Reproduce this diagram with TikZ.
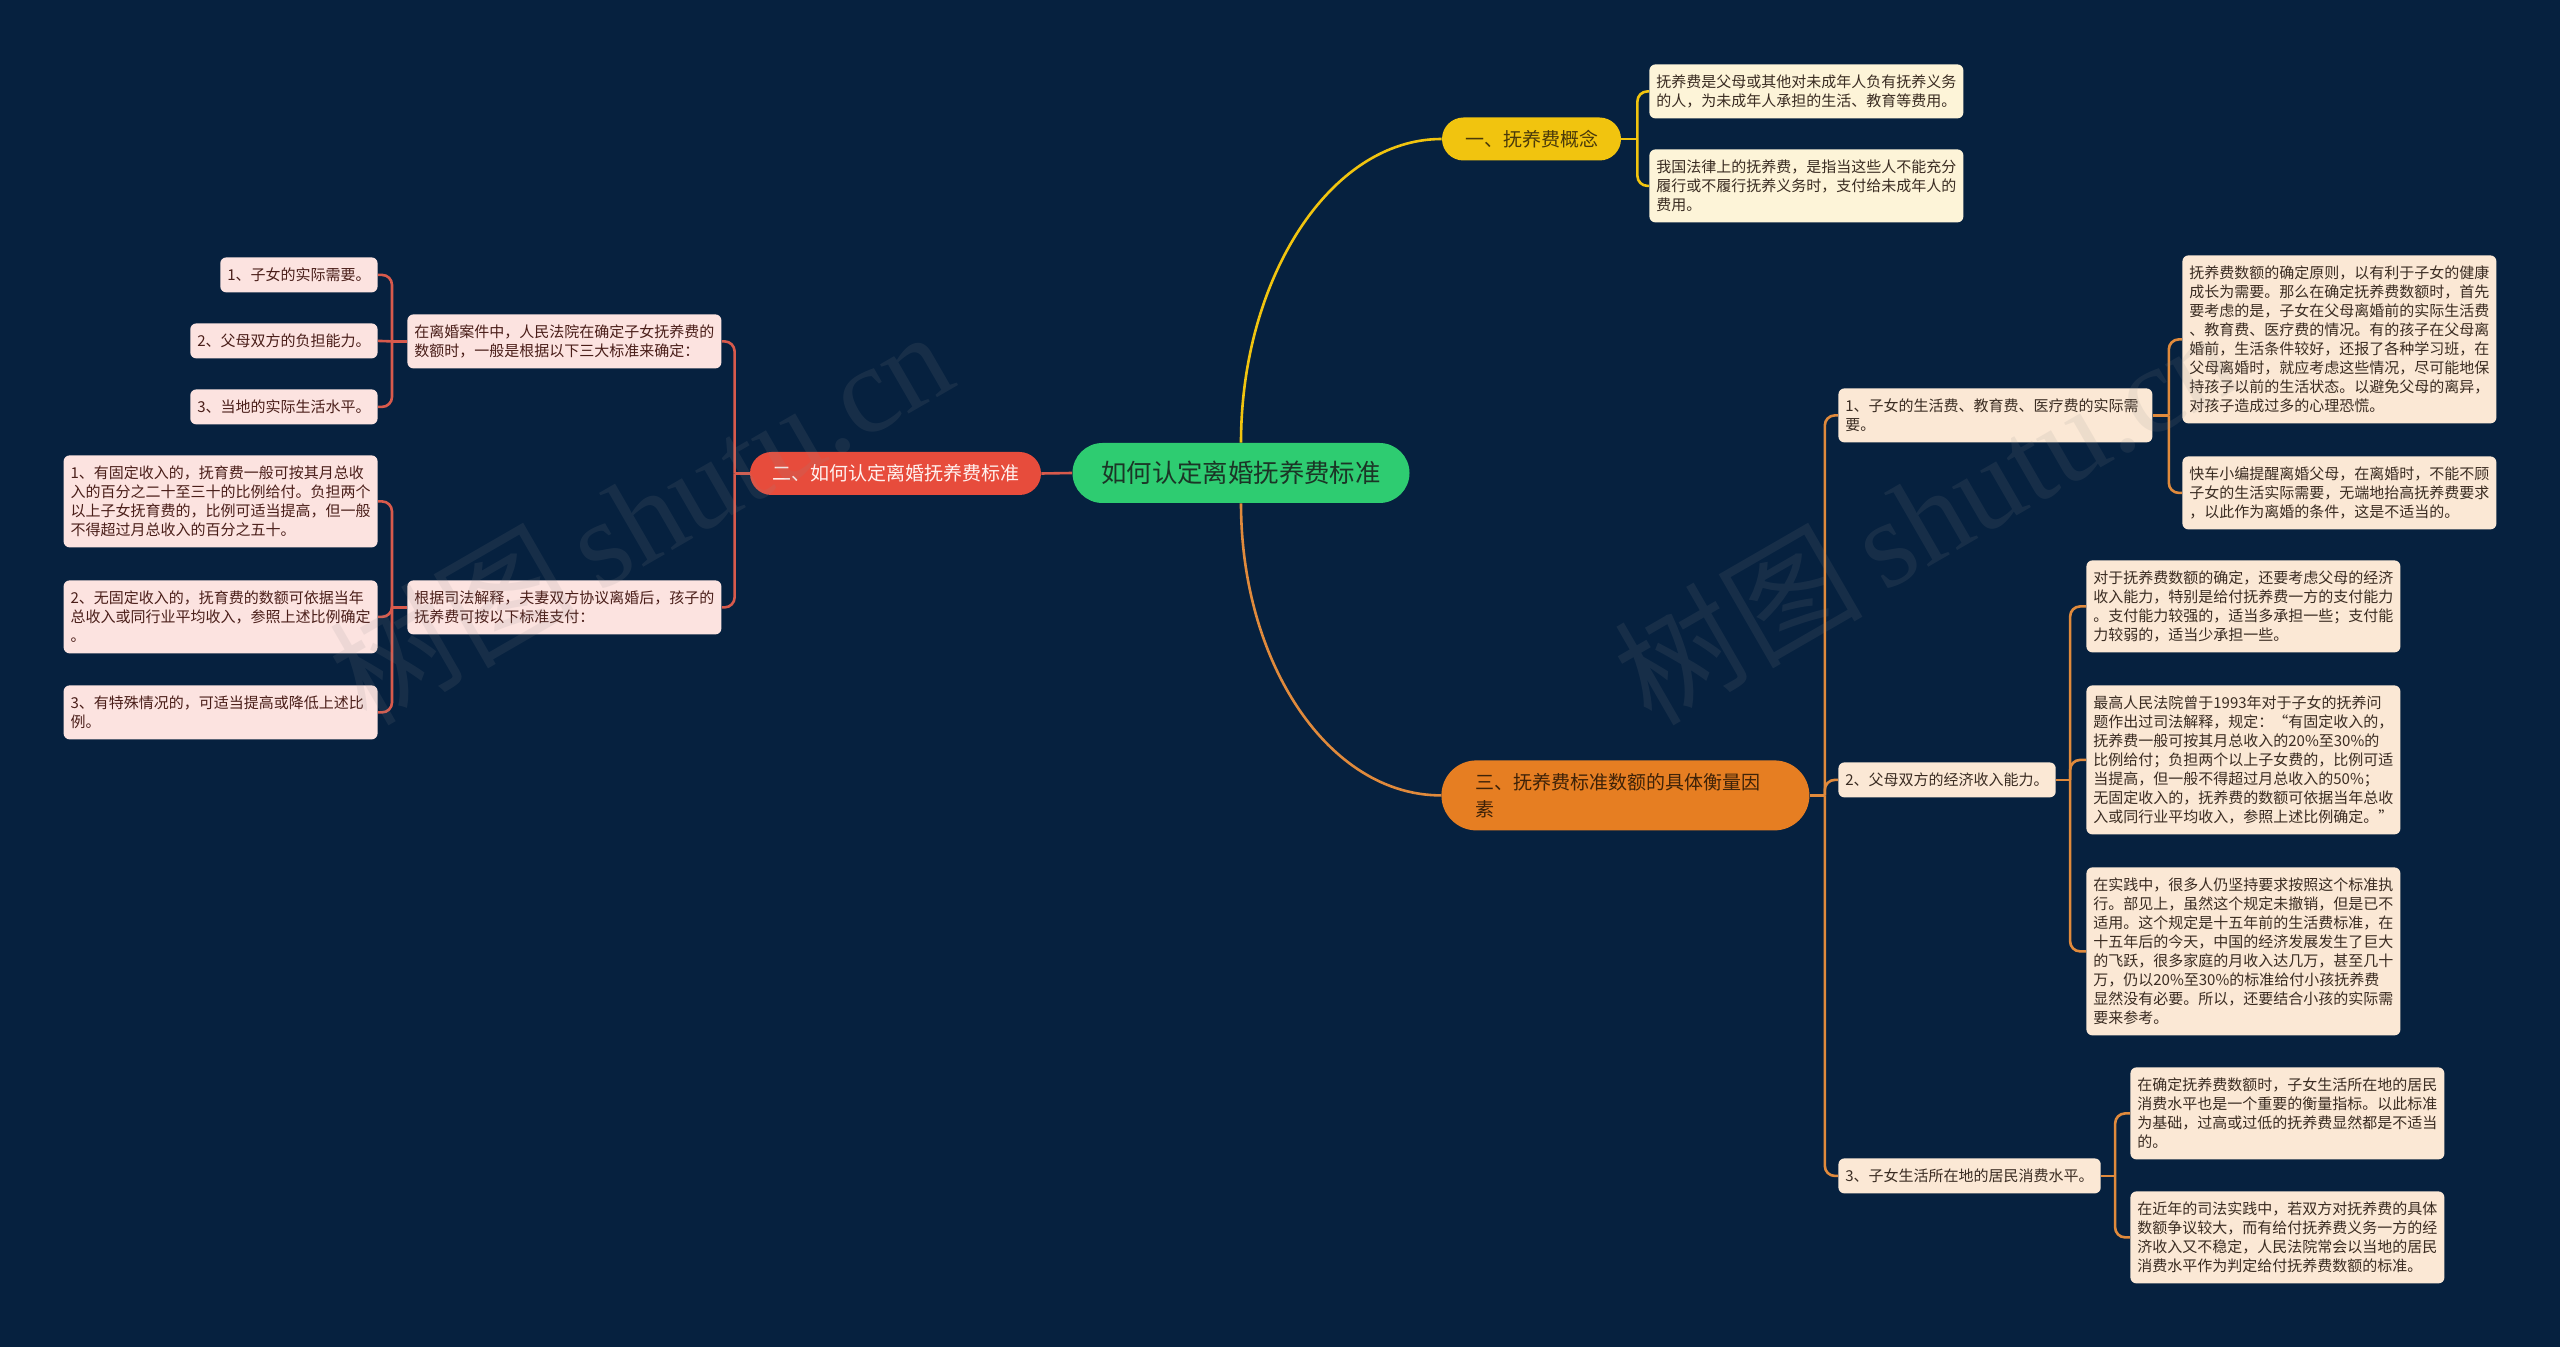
\documentclass[tikz,border=0pt]{standalone}
\usepackage{fontspec}
\setmainfont{Noto Sans CJK SC}
\newfontfamily\wmserif{Liberation Serif}
\definecolor{bg}{HTML}{06213F}
\definecolor{cfill}{HTML}{2ECC71}
\definecolor{ctext}{HTML}{1B3526}
\definecolor{yfill}{HTML}{F1C40F}
\definecolor{ytext}{HTML}{4A3A0A}
\definecolor{yleaffill}{HTML}{FDF4D8}
\definecolor{ylinec}{HTML}{F1C40F}
\definecolor{rfill}{HTML}{E74C3C}
\definecolor{rtext}{HTML}{FFF1EF}
\definecolor{rleaffill}{HTML}{FCE3E0}
\definecolor{rlinec}{HTML}{D85A4C}
\definecolor{ofill}{HTML}{E67E22}
\definecolor{otext}{HTML}{3E2208}
\definecolor{oleaffill}{HTML}{FBE8D5}
\definecolor{olinec}{HTML}{E08A3C}
\definecolor{leaftext}{HTML}{3A2C22}
\definecolor{rleaftext}{HTML}{4A1E19}
\definecolor{wmc}{HTML}{8C8C8C}
\begin{document}
\begin{tikzpicture}[x=0.5pt,y=-0.5pt,
  leafbase/.style={rounded corners=3pt, inner xsep=3.5pt, inner ysep=0pt, align=left,
    font=\fontsize{7.5pt}{9.5pt}\selectfont, anchor=north west},
  wide/.style={text width=150pt},
  nl/.style={minimum height={#1*9.5pt+8pt}},
  yleaf/.style={leafbase, fill=yleaffill, text=leaftext},
  rleaf/.style={leafbase, fill=rleaffill, text=rleaftext, anchor=north east},
  oleaf/.style={leafbase, fill=oleaffill, text=leaftext},
  pill/.style={inner sep=0pt, minimum height=21.5pt, rounded corners=10.75pt,
    font=\fontsize{9.5pt}{13.5pt}\selectfont},
  ycon/.style={draw=ylinec, line width=1.3pt},
  rcon/.style={draw=rlinec, line width=1.3pt},
  ocon/.style={draw=olinec, line width=1.3pt},
  elbow/.style={rounded corners=5pt},
  wmark/.style={rotate=30, text=wmc, opacity=0.13, inner sep=0pt}
]
\fill[bg] (0,0) rectangle (2560,1347);
\useasboundingbox (0,0) rectangle (2560,1347);

% central and main branches
\node[fill=cfill, text=ctext, inner sep=0pt, minimum width=168.5pt, minimum height=30pt,
  rounded corners=15pt, font=\fontsize{12.7pt}{15pt}\selectfont] (C) at (1241,473) {如何认定离婚抚养费标准};
\node[pill, fill=yfill, text=ytext, minimum width=89.5pt] (Y) at (1531.5,139) {一、抚养费概念};
\node[pill, fill=rfill, text=rtext, minimum width=145.5pt] (R) at (895.5,473.5) {二、如何认定离婚抚养费标准};
\node[pill, fill=ofill, text=otext, anchor=north west, text width=150pt, inner xsep=17pt,
  minimum height=35pt, rounded corners=17.5pt, align=left] (O) at (1441,760) {三、抚养费标准数额的具体衡量因\\素};

% yellow leaves
\node[yleaf, wide, nl=2] (Ya) at (1649,64) {抚养费是父母或其他对未成年人负有抚养义务\\的人，为未成年人承担的生活、教育等费用。};
\node[yleaf, wide, nl=3] (Yb) at (1649,149) {我国法律上的抚养费，是指当这些人不能充分\\履行或不履行抚养义务时，支付给未成年人的\\费用。};

% red side
\node[rleaf, anchor=north west, wide, nl=2] (R1) at (407,314) {在离婚案件中，人民法院在确定子女抚养费的\\数额时，一般是根据以下三大标准来确定：};
\node[rleaf, anchor=north west, wide, nl=2] (R2) at (407,580) {根据司法解释，夫妻双方协议离婚后，孩子的\\抚养费可按以下标准支付：};
\node[rleaf, nl=1] (R1a) at (378,257) {1、子女的实际需要。};
\node[rleaf, nl=1] (R1b) at (378,323) {2、父母双方的负担能力。};
\node[rleaf, nl=1] (R1c) at (378,389) {3、当地的实际生活水平。};
\node[rleaf, wide, nl=4] (R2a) at (378,455) {1、有固定收入的，抚育费一般可按其月总收\\入的百分之二十至三十的比例给付。负担两个\\以上子女抚育费的，比例可适当提高，但一般\\不得超过月总收入的百分之五十。};
\node[rleaf, wide, nl=3] (R2b) at (378,580) {2、无固定收入的，抚育费的数额可依据当年\\总收入或同行业平均收入，参照上述比例确定\\。};
\node[rleaf, wide, nl=2] (R2c) at (378,685) {3、有特殊情况的，可适当提高或降低上述比\\例。};

% orange side
\node[oleaf, wide, nl=2] (O1) at (1838,388) {1、子女的生活费、教育费、医疗费的实际需\\要。};
\node[oleaf, nl=1] (O2) at (1838,762) {2、父母双方的经济收入能力。};
\node[oleaf, nl=1] (O3) at (1838,1158) {3、子女生活所在地的居民消费水平。};
\node[oleaf, wide, nl=8] (O1a) at (2182,255) {抚养费数额的确定原则，以有利于子女的健康\\成长为需要。那么在确定抚养费数额时，首先\\要考虑的是，子女在父母离婚前的实际生活费\\、教育费、医疗费的情况。有的孩子在父母离\\婚前，生活条件较好，还报了各种学习班，在\\父母离婚时，就应考虑这些情况，尽可能地保\\持孩子以前的生活状态。以避免父母的离异，\\对孩子造成过多的心理恐慌。};
\node[oleaf, wide, nl=3] (O1b) at (2182,456) {快车小编提醒离婚父母，在离婚时，不能不顾\\子女的生活实际需要，无端地抬高抚养费要求\\，以此作为离婚的条件，这是不适当的。};
\node[oleaf, wide, nl=4] (O2a) at (2086,560) {对于抚养费数额的确定，还要考虑父母的经济\\收入能力，特别是给付抚养费一方的支付能力\\。支付能力较强的，适当多承担一些；支付能\\力较弱的，适当少承担一些。};
\node[oleaf, wide, nl=7] (O2b) at (2086,685) {最高人民法院曾于1993年对于子女的抚养问\\题作出过司法解释，规定：“有固定收入的，\\抚养费一般可按其月总收入的20\%至30\%的\\比例给付；负担两个以上子女费的，比例可适\\当提高，但一般不得超过月总收入的50\%；\\无固定收入的，抚养费的数额可依据当年总收\\入或同行业平均收入，参照上述比例确定。”};
\node[oleaf, wide, nl=8] (O2c) at (2086,867) {在实践中，很多人仍坚持要求按照这个标准执\\行。部见上，虽然这个规定未撤销，但是已不\\适用。这个规定是十五年前的生活费标准，在\\十五年后的今天，中国的经济发展发生了巨大\\的飞跃，很多家庭的月收入达几万，甚至几十\\万，仍以20\%至30\%的标准给付小孩抚养费\\显然没有必要。所以，还要结合小孩的实际需\\要来参考。};
\node[oleaf, wide, nl=4] (O3a) at (2130,1067) {在确定抚养费数额时，子女生活所在地的居民\\消费水平也是一个重要的衡量指标。以此标准\\为基础，过高或过低的抚养费显然都是不适当\\的。};
\node[oleaf, wide, nl=4] (O3b) at (2130,1191) {在近年的司法实践中，若双方对抚养费的具体\\数额争议较大，而有给付抚养费义务一方的经\\济收入又不稳定，人民法院常会以当地的居民\\消费水平作为判定给付抚养费数额的标准。};

% main connectors
\draw[ycon] (C.north) .. controls +(0,-163) and +(-112,0) .. (Y.west);
\draw[ocon] (C.south) .. controls +(0,160) and +(-112,0) .. (O.west);
\draw[rcon] (C.west) -- (R.east);

% yellow brackets
\draw[ycon] (Y.east) -- ++(16,0) coordinate (jy);
\draw[ycon, elbow] (jy) |- (Ya.west);
\draw[ycon, elbow] (jy) |- (Yb.west);

% red brackets
\draw[rcon] (R.west) -- ++(-15,0) coordinate (jr);
\draw[rcon, elbow] (jr) |- (R1.east);
\draw[rcon, elbow] (jr) |- (R2.east);
\draw[rcon] (R1.west) -- ++(-15,0) coordinate (jr1);
\draw[rcon, elbow] (jr1) |- (R1a.east);
\draw[rcon] (jr1) -- (R1b.east);
\draw[rcon, elbow] (jr1) |- (R1c.east);
\draw[rcon] (R2.west) -- ++(-15,0) coordinate (jr2);
\draw[rcon, elbow] (jr2) |- (R2a.east);
\draw[rcon, elbow] (jr2) |- (R2b.east);
\draw[rcon, elbow] (jr2) |- (R2c.east);

% orange brackets
\draw[ocon] (O.east) -- ++(15,0) coordinate (jo);
\draw[ocon, elbow] (jo) |- (O1.west);
\draw[ocon, elbow] (jo) |- (O2.west);
\draw[ocon, elbow] (jo) |- (O3.west);
\draw[ocon] (O1.east) -- ++(16,0) coordinate (jo1);
\draw[ocon, elbow] (jo1) |- (O1a.west);
\draw[ocon, elbow] (jo1) |- (O1b.west);
\draw[ocon] (O2.east) -- ++(14,0) coordinate (jo2);
\draw[ocon, elbow] (jo2) |- (O2a.west);
\draw[ocon, elbow] (jo2) |- (O2b.west);
\draw[ocon, elbow] (jo2) |- (O2c.west);
\draw[ocon] (O3.east) -- ++(14,0) coordinate (jo3);
\draw[ocon, elbow] (jo3) |- (O3a.west);
\draw[ocon, elbow] (jo3) |- (O3b.west);

% watermarks
\node[wmark] (wm1) at (640,515) {\fontsize{62pt}{62pt}\selectfont 树图\,{\wmserif shutu.cn}};
\node[wmark] (wm2) at (1925,515) {\fontsize{62pt}{62pt}\selectfont 树图\,{\wmserif shutu.cn}};
\end{tikzpicture}
\end{document}
